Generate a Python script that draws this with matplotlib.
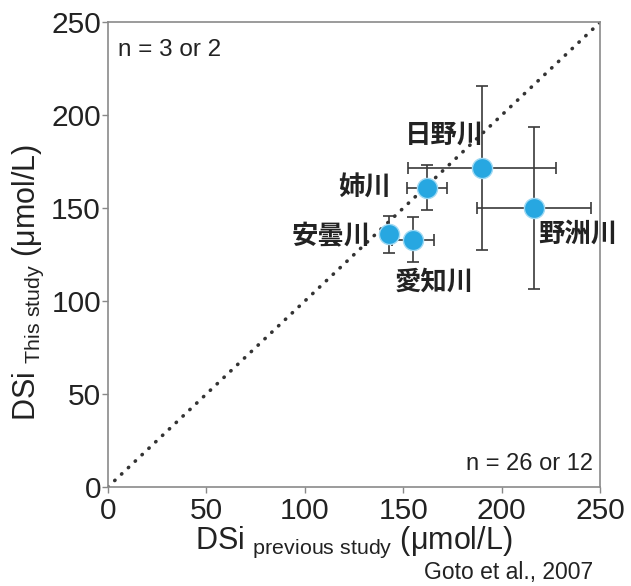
import numpy as np
import matplotlib
matplotlib.use('Agg')
import matplotlib.pyplot as plt

plt.rcParams['font.family'] = ['Liberation Sans', 'Noto Sans CJK JP', 'DejaVu Sans']
plt.rcParams['mathtext.fontset'] = 'custom'
plt.rcParams['mathtext.rm'] = 'Liberation Sans'
plt.rcParams['mathtext.it'] = 'Liberation Sans'

# DSi data (umol/L)
rivers = ['日野川', '姉川', '野洲川', '安曇川', '愛知川']
dsi_prev = [190, 162, 216.5, 143, 155]
dsi_prev_err = [37.5, 10, 29, 3, 10.5]
dsi_this = [171.5, 161, 150, 136, 133]
dsi_this_err = [44, 12, 43.5, 10, 12]

ticks = [0, 50, 100, 150, 200, 250]

# label offsets from each point, in data units
label_offsets = [(-19, 17.5), (-31.5, 0), (22, -14), (-29.5, -1.5), (11, -23)]

fig = plt.figure(figsize=(6.31, 5.86), dpi=100)
ax = fig.add_axes([0.171, 0.169, 0.780, 0.793])

# 1:1 line
ax.plot([0, 250], [0, 250], color='#333333', lw=2.6,
        linestyle=(0, (0.1, 2.5)), dash_capstyle='round', zorder=1)

ax.errorbar(dsi_prev, dsi_this, xerr=dsi_prev_err, yerr=dsi_this_err,
            fmt='none', ecolor='#3a3a3a', elinewidth=1.2, capsize=4,
            capthick=1.2, zorder=2)
ax.plot(dsi_prev, dsi_this, 'o', ms=14.5, color='#27a7e1',
        mec='#9fd9f3', mew=1.0, linestyle='none', zorder=3)

for name, x, y, (dx, dy) in zip(rivers, dsi_prev, dsi_this, label_offsets):
    ax.text(x + dx, y + dy, name, ha='center', va='center', fontsize=19,
            fontweight='bold', color='#222222', zorder=4, clip_on=False,
            family=['Noto Sans CJK JP'])

ax.set_xlim(0, 250)
ax.set_ylim(0, 250)
ax.set_xticks(ticks)
ax.set_yticks(ticks)
ax.tick_params(direction='out', length=4, width=1, color='#888888',
               labelsize=21.5, labelcolor='#222222', pad=1)
ax.tick_params(axis='x', pad=3)
for s in ax.spines.values():
    s.set_color('#8a8a8a')
    s.set_linewidth(1.2)

ax.set_xlabel(r'DSi $_{\mathrm{previous\ study}}$ (μmol/L)', fontsize=22,
              color='#222222', labelpad=0)
ax.set_ylabel(r'DSi $_{\mathrm{This\ study}}$ (μmol/L)', fontsize=22,
              color='#222222')
ax.yaxis.set_label_coords(-0.125, 0.44)

ax.text(0.02, 0.965, 'n = 3 or 2', transform=ax.transAxes, ha='left',
        va='top', fontsize=17.5, color='#222222')
ax.text(0.985, 0.025, 'n = 26 or 12', transform=ax.transAxes, ha='right',
        va='bottom', fontsize=17, color='#222222')
ax.text(0.985, -0.208, 'Goto et al., 2007', transform=ax.transAxes,
        ha='right', va='bottom', fontsize=16.5, color='#222222')

fig.savefig('out.png', dpi=100)
